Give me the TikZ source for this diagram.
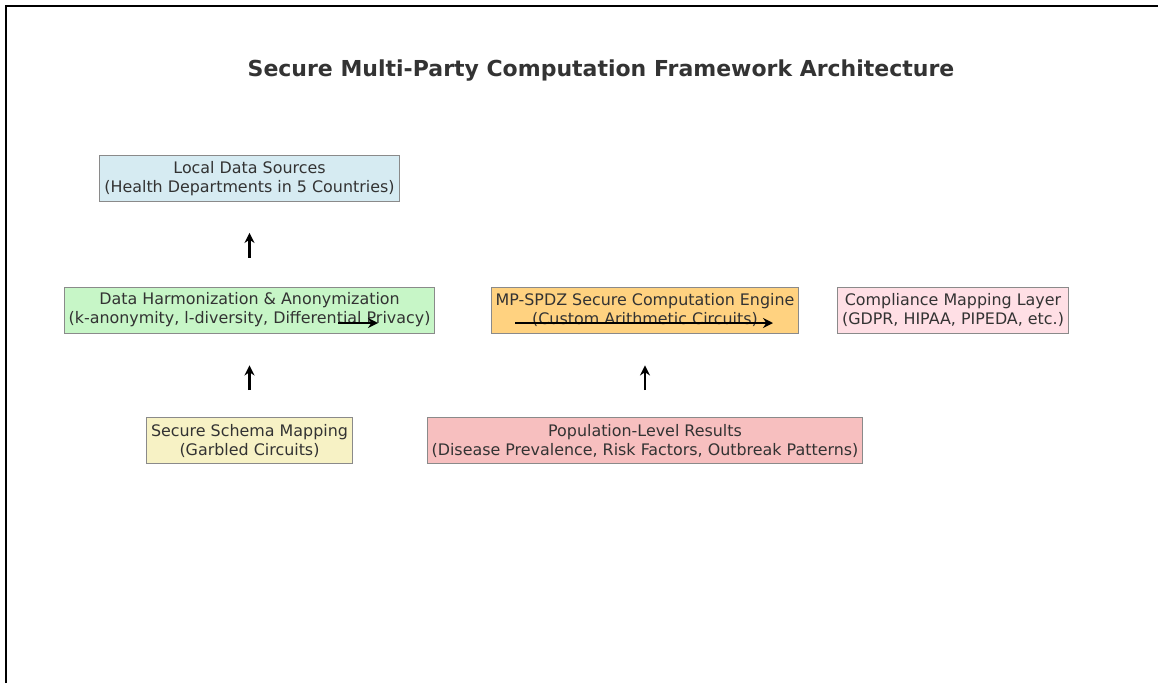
\documentclass[tikz,border=0pt]{standalone}
\usepackage{fontspec}
\setmainfont{DejaVu Sans}
\usepackage{xcolor}
\usepackage{tikz}
\usetikzlibrary{positioning,arrows.meta}

\definecolor{srcblue}{HTML}{D6EBF2}
\definecolor{harmgreen}{HTML}{C7F6C7}
\definecolor{mpcorange}{HTML}{FFD280}
\definecolor{comppink}{HTML}{FFDFE5}
\definecolor{schemakhaki}{HTML}{F7F2C5}
\definecolor{popcoral}{HTML}{F7BFBF}
\definecolor{boxedge}{HTML}{8A8A8A}
\definecolor{inktext}{HTML}{333333}

\begin{document}
\begin{tikzpicture}[x=1pt,y=-1pt,on grid,font=\fontsize{15.9}{19}\selectfont,
	layer/.style={draw=boxedge,line width=0.9pt,align=center,text=inktext,minimum height=46pt,inner xsep=4.5pt},
	flow/.style={-{Stealth[length=10pt,width=10pt]},line width=2.4pt}]
	\useasboundingbox (0,0) rectangle (1158,683);
	\draw[line width=2pt] (5.5,683) -- (5.5,5.5) -- (1158,5.5);
	\node[font=\bfseries\fontsize{22}{26}\selectfont,text=inktext] (title) at (601,70.5) {Secure Multi-Party Computation Framework Architecture};
	\node[layer,fill=srcblue] (src) at (249.5,178.5) {Local Data Sources\\(Health Departments in 5 Countries)};
	\node[layer,fill=harmgreen] (harm) [below=131.5pt of src] {Data Harmonization \& Anonymization\\(k-anonymity, l-diversity, Differential Privacy)};
	\node[layer,fill=schemakhaki] (schema) [below=130.5pt of harm] {Secure Schema Mapping\\(Garbled Circuits)};
	\node[layer,fill=mpcorange] (mpc) [right=395.5pt of harm] {MP-SPDZ Secure Computation Engine\\(Custom Arithmetic Circuits)};
	\node[layer,fill=comppink] (comp) [right=308pt of mpc] {Compliance Mapping Layer\\(GDPR, HIPAA, PIPEDA, etc.)};
	\node[layer,fill=popcoral] (pop) [below=130.5pt of mpc] {Population-Level Results\\(Disease Prevalence, Risk Factors, Outbreak Patterns)};
	% arrow stubs between the layers
	\coordinate (up1a) at ([yshift=29pt]harm.north);
	\coordinate (up1b) at ([yshift=-31pt]src.south);
	\coordinate (up2a) at ([yshift=27pt]schema.north);
	\coordinate (up2b) at ([yshift=-32pt]harm.south);
	\coordinate (up3a) at ([yshift=27pt]pop.north);
	\coordinate (up3b) at ([yshift=-32pt]mpc.south);
	\coordinate (rt1a) at ([xshift=88.5pt,yshift=-13pt]harm.center);
	\coordinate (rt1b) at ([xshift=128.5pt,yshift=-13pt]harm.center);
	\coordinate (rt2a) at ([xshift=-130pt,yshift=-13pt]mpc.center);
	\coordinate (rt2b) at ([xshift=128pt,yshift=-13pt]mpc.center);
	\draw[flow] (up1a) -- (up1b);
	\draw[flow] (up2a) -- (up2b);
	\draw[flow] (up3a) -- (up3b);
	\draw[flow] (rt1a) -- (rt1b);
	\draw[flow] (rt2a) -- (rt2b);
\end{tikzpicture}
\end{document}
